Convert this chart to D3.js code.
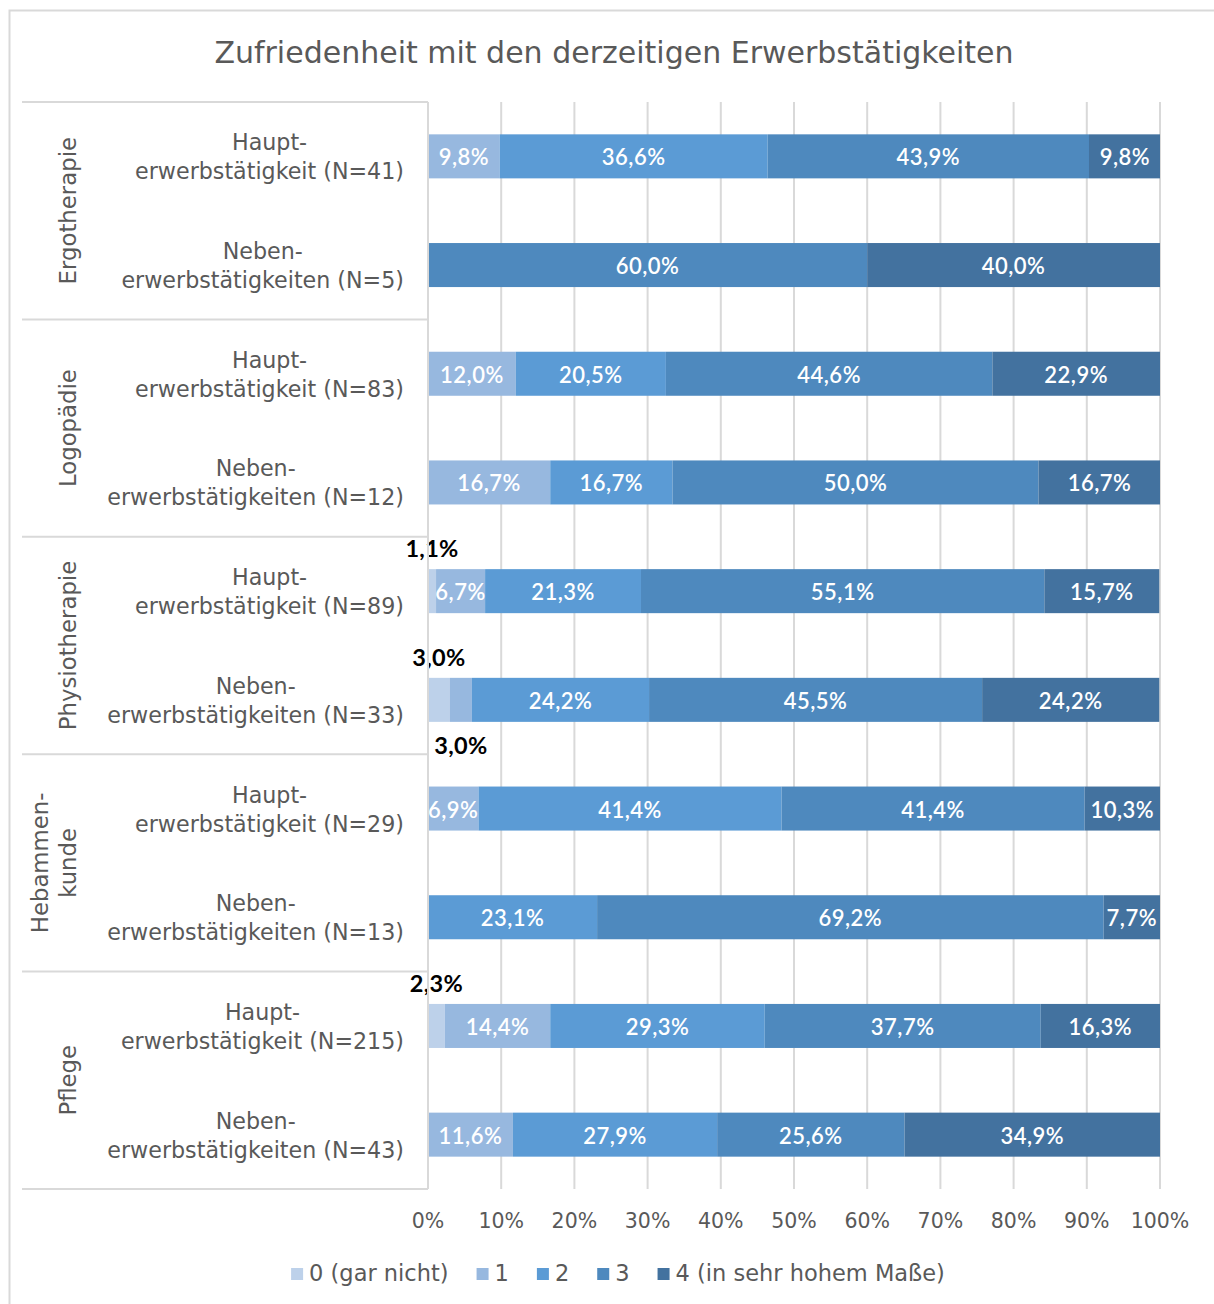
<!DOCTYPE html>
<html><head><meta charset="utf-8">
<script src="https://cdn.jsdelivr.net/npm/d3@7"></script>
<style>
html,body{margin:0;padding:0;background:#fff;}
svg{display:block;}
</style></head>
<body>
<svg id="chart" width="1214" height="1304"></svg>
<script>
// ---- data ----
const title = "Zufriedenheit mit den derzeitigen Erwerbstätigkeiten";
const groups = ["Ergotherapie", "Logopädie", "Physiotherapie", "Hebammen-\nkunde", "Pflege"];
const rowLines1 = ["Haupt-", "Neben-", "Haupt-", "Neben-", "Haupt-", "Neben-", "Haupt-", "Neben-", "Haupt-", "Neben-"];
const rowLines2 = ["erwerbstätigkeit (N=41)", "erwerbstätigkeiten (N=5)",
                   "erwerbstätigkeit (N=83)", "erwerbstätigkeiten (N=12)",
                   "erwerbstätigkeit (N=89)", "erwerbstätigkeiten (N=33)",
                   "erwerbstätigkeit (N=29)", "erwerbstätigkeiten (N=13)",
                   "erwerbstätigkeit (N=215)", "erwerbstätigkeiten (N=43)"];
const seriesNames = ["0 (gar nicht)", "1", "2", "3", "4 (in sehr hohem Maße)"];
const s0 = [0, 0, 0, 0, 1.1, 3.0, 0, 0, 2.3, 0];
const s1 = [9.8, 0, 12.0, 16.7, 6.7, 3.0, 6.9, 0, 14.4, 11.6];
const s2 = [36.6, 0, 20.5, 16.7, 21.3, 24.2, 41.4, 23.1, 29.3, 27.9];
const s3 = [43.9, 60.0, 44.6, 50.0, 55.1, 45.5, 41.4, 69.2, 37.7, 25.6];
const s4 = [9.8, 40.0, 22.9, 16.7, 15.7, 24.2, 10.3, 7.7, 16.3, 34.9];
const tickValues = [0, 10, 20, 30, 40, 50, 60, 70, 80, 90, 100];
const colors = ["#bdd1ea", "#97b8df", "#5b9bd5", "#4e89be", "#43729f"];

// ---- layout ----
const svg = d3.select("#chart");
const W = 1214, H = 1304;
const plotL = 428, plotR = 1160, plotT = 102, plotB = 1189;
const axisFont = "'DejaVu Sans', sans-serif";
const labelFont = "Lato, 'Open Sans', sans-serif";
const grey = "#595959";
const lineCol = "#d9d9d9";

// chart border
svg.append("rect").attr("x", 9.5).attr("y", 10.5).attr("width", W + 10).attr("height", H + 10)
  .attr("fill", "#fff").attr("stroke", lineCol).attr("stroke-width", 2);

// title
svg.append("text").attr("x", 614).attr("y", 63).attr("text-anchor", "middle")
  .attr("font-family", axisFont).attr("font-size", 30).attr("fill", grey)
  .attr("font-weight", "normal").text(title);

const rowIdx = d3.range(rowLines2.length);
const x = d3.scaleLinear().domain([0, 100]).range([plotL, plotR]);
const y = d3.scaleBand().domain(rowIdx).range([plotT, plotB]).paddingInner(0.595).paddingOuter(0.2975);
const yRow = d3.scaleBand().domain(rowIdx).range([plotT, plotB]);

// gridlines
svg.append("g").selectAll("line").data(tickValues).join("line")
  .attr("x1", d => x(d)).attr("x2", d => x(d))
  .attr("y1", plotT).attr("y2", plotB)
  .attr("stroke", lineCol).attr("stroke-width", 2);

// group separators
const nGroups = groups.length;
const groupEdges = d3.range(nGroups + 1).map(i => plotT + i * (plotB - plotT) / nGroups);
svg.append("g").selectAll("line").data(groupEdges).join("line")
  .attr("x1", 22).attr("x2", plotL).attr("y1", d => d).attr("y2", d => d)
  .attr("stroke", lineCol).attr("stroke-width", 2);

// stacked data
const rows = rowIdx.map(i => ({i, v: [s0[i], s1[i], s2[i], s3[i], s4[i]]}));
const segs = [];
rows.forEach(r => {
  let acc = 0, small = 0;
  r.v.forEach((v, k) => {
    if (v > 0) {
      const seg = {row: r.i, k, v, x0: acc, x1: acc + v};
      if (v < 5) { seg.outside = small === 0 ? "above" : "below"; small++; }
      segs.push(seg);
    }
    acc += v;
  });
});

svg.append("g").selectAll("rect").data(segs).join("rect")
  .attr("x", d => x(d.x0)).attr("width", d => x(Math.min(d.x1, 100)) - x(d.x0))
  .attr("y", d => y(d.row)).attr("height", y.bandwidth())
  .attr("fill", d => colors[d.k]);

const fmt = v => v.toFixed(1).replace(".", ",") + "%";

// inside labels
svg.append("g").selectAll("text").data(segs.filter(d => !d.outside)).join("text")
  .attr("x", d => x((d.x0 + d.x1) / 2)).attr("y", d => y(d.row) + y.bandwidth() / 2 + 9)
  .attr("text-anchor", "middle").attr("font-family", labelFont).attr("font-size", 22)
  .attr("font-weight", 600).attr("letter-spacing", 0.5).attr("fill", "#fff").text(d => fmt(d.v));

// outside labels
svg.append("g").selectAll("text").data(segs.filter(d => d.outside)).join("text")
  .attr("x", d => x((d.x0 + d.x1) / 2))
  .attr("y", d => d.outside === "above" ? y(d.row) - 12 : y(d.row) + y.bandwidth() + 32)
  .attr("text-anchor", "middle").attr("font-family", labelFont).attr("font-size", 23.5)
  .attr("font-weight", 700).attr("letter-spacing", 0.3).attr("fill", "#000").text(d => fmt(d.v));

// y axis line
svg.append("line").attr("x1", plotL).attr("x2", plotL).attr("y1", plotT).attr("y2", plotB)
  .attr("stroke", lineCol).attr("stroke-width", 2);

// row labels: block right-aligned, lines centered within block
const rightEdge = 404;
rowIdx.forEach(i => {
  const cy = yRow(i) + yRow.bandwidth() / 2;
  const g = svg.append("g");
  const t1 = g.append("text").attr("font-family", axisFont).attr("font-size", 22.2).attr("fill", grey)
    .attr("text-anchor", "middle").attr("y", cy - 6).text(rowLines1[i]);
  const t2 = g.append("text").attr("font-family", axisFont).attr("font-size", 22.2).attr("fill", grey)
    .attr("text-anchor", "middle").attr("y", cy + 23).text(rowLines2[i]);
  const w = Math.max(t1.node().getComputedTextLength(), t2.node().getComputedTextLength());
  t1.attr("x", rightEdge - w / 2); t2.attr("x", rightEdge - w / 2);
});

// group labels (rotated)
groups.forEach((gname, gi) => {
  const cy = (groupEdges[gi] + groupEdges[gi + 1]) / 2;
  const lines = gname.split("\n");
  lines.forEach((ln, li) => {
    const cx = lines.length === 1 ? 76 : 48 + li * 28;
    svg.append("text").attr("transform", `translate(${cx},${cy}) rotate(-90)`)
      .attr("text-anchor", "middle").attr("font-family", axisFont).attr("font-size", 22.8)
      .attr("fill", grey).text(ln);
  });
});

// x axis tick labels
svg.append("g").selectAll("text").data(tickValues).join("text")
  .attr("x", d => x(d)).attr("y", 1228).attr("text-anchor", "middle")
  .attr("font-family", axisFont).attr("font-size", 20.5).attr("fill", grey)
  .text(d => d + "%");

// legend
const legend = svg.append("g");
let lx = 0;
seriesNames.forEach((n, k) => {
  const g = legend.append("g");
  g.append("rect").attr("x", 0).attr("y", -13).attr("width", 12).attr("height", 12).attr("fill", colors[k]);
  const t = g.append("text").attr("x", 18).attr("y", 0).attr("font-family", axisFont)
    .attr("font-size", 22.5).attr("fill", grey).text(n);
  const w = 18 + t.node().getComputedTextLength();
  g.attr("transform", `translate(${lx},0)`);
  lx += w + 28;
});
const totalW = lx - 28;
legend.attr("transform", `translate(${(291 + 945) / 2 - totalW / 2},1281)`);
</script>
</body></html>
